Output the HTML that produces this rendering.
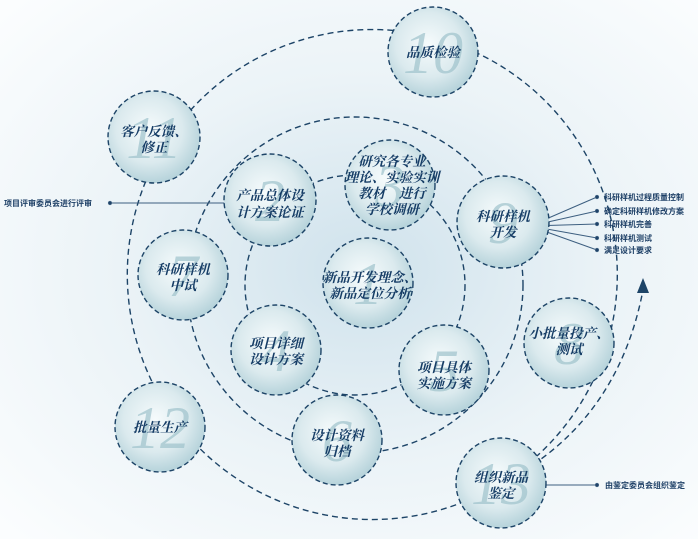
<!DOCTYPE html>
<html><head><meta charset="utf-8"><style>
html,body{margin:0;padding:0;width:698px;height:539px;overflow:hidden;background:#fff}
svg{display:block}
.t{font-family:"Liberation Serif","Noto Serif CJK SC",serif;font-weight:bold;font-style:italic;fill:#163d66;font-size:13.5px;text-anchor:middle}
.n{font-family:"Liberation Serif",serif;font-style:italic;fill:#9fc3cc;font-size:60px;text-anchor:middle;opacity:.7}
.s{font-family:"Liberation Sans","Noto Sans CJK SC",sans-serif;font-weight:bold;fill:#1d3f66;font-size:8px}
</style></head><body>
<svg width="698" height="539" viewBox="0 0 698 539">
<defs>
<radialGradient id="bg" cx="0.52" cy="0.5" r="0.7">
<stop offset="0" stop-color="#cfe2ec"/><stop offset="0.5" stop-color="#ebf3f7"/><stop offset="1" stop-color="#fbfdfe"/></radialGradient>
<radialGradient id="cf" cx="0.45" cy="0.42" r="0.6">
<stop offset="0" stop-color="#f6fbfc"/><stop offset="0.6" stop-color="#dbeaee"/><stop offset="1" stop-color="#b3d1d9"/></radialGradient>
</defs>
<rect width="698" height="539" fill="url(#bg)"/>
<g fill="none" stroke="#1d4467" stroke-width="1.4" stroke-dasharray="6,4">
<circle cx="355" cy="285" r="110"/>
<circle cx="355" cy="285" r="168"/>
<path d="M501,483 A245,245 0 1 1 520,470"/>
<path d="M525,470 Q620,410 643,290"/>
</g>
<polygon points="643,278 637,293 649,293" fill="#1d4467"/>
<g stroke="#3d5f80" stroke-width="1" fill="#1d3f66">
<line x1="110" y1="203" x2="232" y2="203"/><circle cx="110" cy="203" r="1.6"/>
<line x1="535" y1="485" x2="597" y2="485"/><circle cx="597" cy="485" r="1.6"/>
<line x1="530" y1="226" x2="597" y2="197"/><circle cx="597" cy="197" r="1.6"/>
<line x1="530" y1="226" x2="597" y2="211"/><circle cx="597" cy="211" r="1.6"/>
<line x1="530" y1="226" x2="597" y2="224"/><circle cx="597" cy="224" r="1.6"/>
<line x1="530" y1="226" x2="597" y2="238"/><circle cx="597" cy="238" r="1.6"/>
<line x1="530" y1="226" x2="597" y2="250"/><circle cx="597" cy="250" r="1.6"/>
</g>
<g fill="url(#cf)" stroke="#1d4467" stroke-width="1.4" stroke-dasharray="5,3">
<circle cx="433" cy="52" r="45"/>
<circle cx="154" cy="137" r="46"/>
<circle cx="390" cy="185" r="45"/>
<circle cx="270" cy="200" r="46"/>
<circle cx="503" cy="222" r="46"/>
<circle cx="183" cy="275" r="45"/>
<circle cx="368" cy="283" r="45"/>
<circle cx="276" cy="350" r="45"/>
<circle cx="569" cy="343" r="45"/>
<circle cx="444" cy="370" r="45"/>
<circle cx="160" cy="427" r="45"/>
<circle cx="337" cy="440" r="45"/>
<circle cx="501" cy="483" r="45"/>
</g>
<g class="n">
<text x="433" y="73">10</text><text x="154" y="158">11</text><text x="390" y="206">3</text>
<text x="270" y="221">2</text><text x="503" y="243">9</text><text x="183" y="296">7</text>
<text x="368" y="304">1</text><text x="276" y="371">4</text><text x="569" y="364">8</text>
<text x="444" y="391">5</text><text x="160" y="448">12</text><text x="337" y="461">6</text><text x="501" y="504">13</text>
</g>
<g class="t">
<text x="433" y="57">品质检验</text>
<text x="154" y="136">客户反馈、</text><text x="154" y="152">修正</text>
<text x="392" y="166">研究各专业</text><text x="392" y="182">理论、实验实训</text><text x="392" y="198">教材　进行</text><text x="392" y="214">学校调研</text>
<text x="270" y="200">产品总体设</text><text x="270" y="217">计方案论证</text>
<text x="503" y="221">科研样机</text><text x="503" y="237">开发</text>
<text x="183" y="274">科研样机</text><text x="183" y="290">中试</text>
<text x="370" y="282">新品开发理念、</text><text x="370" y="298">新品定位分析</text>
<text x="276" y="348">项目详细</text><text x="276" y="364">设计方案</text>
<text x="569" y="338">小批量投产、</text><text x="569" y="354">测试</text>
<text x="444" y="372">项目具体</text><text x="444" y="388">实施方案</text>
<text x="160" y="432">批量生产</text>
<text x="337" y="440">设计资料</text><text x="337" y="456">归档</text>
<text x="501" y="482">组织新品</text><text x="501" y="498">鉴定</text>
</g>
<g class="s">
<text x="4" y="206">项目评审委员会进行评审</text>
<text x="604" y="200">科研样机过程质量控制</text>
<text x="604" y="214">确定科研样机修改方案</text>
<text x="604" y="227">科研样机完善</text>
<text x="604" y="241">科研样机测试</text>
<text x="604" y="253">满足设计要求</text>
<text x="605" y="488">由鉴定委员会组织鉴定</text>
</g>
</svg>
</body></html>
